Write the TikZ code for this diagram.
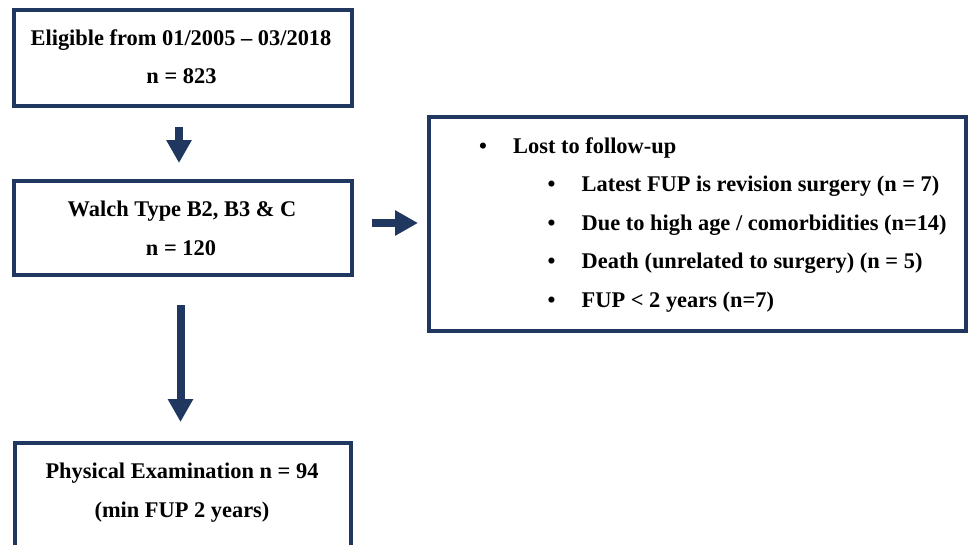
\documentclass[tikz,border=0pt]{standalone}
\usepackage{fontspec}
\setmainfont{Liberation Serif}
\usetikzlibrary{arrows.meta}
\definecolor{navy}{RGB}{32,56,95}
\begin{document}
\begin{tikzpicture}[x=1pt,y=-1pt,
  box/.style={draw=navy, line width=4pt, inner sep=0pt, outer sep=0pt},
  tx/.style={font=\bfseries\fontsize{22.4}{27}\selectfont, anchor=base, inner sep=0pt},
  txl/.style={tx, anchor=base west},
  blockarrow/.style={draw=navy, line width=8pt, -{Triangle[width=24pt,length=23pt]}}]
\useasboundingbox (0,0) rectangle (968,544);
\clip (0,0) rectangle (968,544);
% boxes
\node[box, minimum width=338.5pt, minimum height=95.5pt] (b1) at (182.75,57.75) {};
\node[box, minimum width=338.5pt, minimum height=94pt] (b2) at (182.75,228) {};
\node[box, minimum width=537pt, minimum height=214.5pt] (b3) at (697.5,223.75) {};
\node[box, minimum width=336pt, minimum height=150pt] (b4) at (183,518) {};
% texts
\node[tx] (t1a) at (181,45) {Eligible from 01/2005 – 03/2018};
\node[tx] (t1b) at (181.5,83) {n = 823};
\node[tx] (t2a) at (182,216) {Walch Type B2, B3 \& C};
\node[tx] (t2b) at (181,255) {n = 120};
\node[tx] (t4a) at (182,478) {Physical Examination n = 94};
\node[tx] (t4b) at (182,517) {(min FUP 2 years)};
% list
\node[tx] (u0) at (483,153) {•};
\node[txl] (l0) at (513,153) {Lost to follow-up};
\node[tx] (u1) at (551.5,191.5) {•};
\node[txl] (l1) at (581.5,191.5) {Latest FUP is revision surgery (n = 7)};
\node[tx] (u2) at (551.5,230) {•};
\node[txl] (l2) at (581.5,230) {Due to high age / comorbidities (n=14)};
\node[tx] (u3) at (551.5,268.5) {•};
\node[txl] (l3) at (581.5,268.5) {Death (unrelated to surgery) (n = 5)};
\node[tx] (u4) at (551.5,307) {•};
\node[txl] (l4) at (581.5,307) {FUP < 2 years (n=7)};
% arrow anchors
\coordinate (a1s) at (179,127);
\coordinate (a1e) at (179,163);
\coordinate (a2s) at (372,223);
\coordinate (a2e) at (418,223);
\coordinate (a3s) at (180.5,305);
\coordinate (a3e) at (180.5,422);
\draw[blockarrow] (a1s) -- (a1e);
\draw[blockarrow] (a2s) -- (a2e);
\draw[blockarrow] (a3s) -- (a3e);
\end{tikzpicture}
\end{document}
